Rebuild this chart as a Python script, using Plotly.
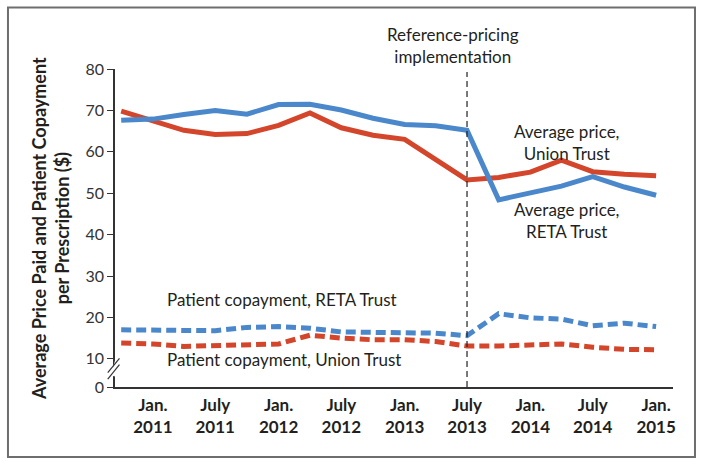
import plotly.graph_objects as go

# quarterly observations, Oct 2010 - Jan 2015
quarters = [
    "2010-10-01", "2011-01-01", "2011-04-01", "2011-07-01", "2011-10-01",
    "2012-01-01", "2012-04-01", "2012-07-01", "2012-10-01", "2013-01-01",
    "2013-04-01", "2013-07-01", "2013-10-01", "2014-01-01", "2014-04-01",
    "2014-07-01", "2014-10-01", "2015-01-01",
]

price_reta = [67.6, 67.9, 69.0, 70.0, 69.1, 71.4, 71.5, 70.1, 68.1, 66.6,
              66.3, 65.2, 48.4, 50.0, 51.7, 54.0, 51.5, 49.5]
price_union = [69.8, 67.5, 65.2, 64.2, 64.4, 66.4, 69.4, 65.8, 64.0, 63.0,
               58.0, 53.2, 53.8, 55.1, 58.0, 55.2, 54.6, 54.2]
copay_reta = [17.0, 17.0, 16.8, 16.8, 17.6, 17.8, 17.4, 16.5, 16.4, 16.4,
              16.2, 15.6, 20.9, 19.9, 19.6, 18.0, 18.6, 17.8]
copay_union = [13.8, 13.6, 13.0, 13.1, 13.3, 13.6, 15.7, 15.0, 14.6, 14.6,
               14.2, 13.1, 13.1, 13.3, 13.6, 12.8, 12.3, 12.2]

x_tickvals = ["2011-01-01", "2011-07-01", "2012-01-01", "2012-07-01", "2013-01-01",
              "2013-07-01", "2014-01-01", "2014-07-01", "2015-01-01"]
x_ticktext = ["Jan.<br>2011", "July<br>2011", "Jan.<br>2012", "July<br>2012", "Jan.<br>2013",
              "July<br>2013", "Jan.<br>2014", "July<br>2014", "Jan.<br>2015"]

# axis is broken between 0 and 10, so "0" sits at the bottom of the range
y_bottom = 3.2
y_tickvals = [y_bottom, 10, 20, 30, 40, 50, 60, 70, 80]
y_ticktext = ["0", "10", "20", "30", "40", "50", "60", "70", "80"]

BLUE = "#4b88cb"
RED = "#d4462b"
FONT = "Lato"

fig = go.Figure()
fig.add_trace(go.Scatter(x=quarters, y=copay_union, mode="lines",
                         line=dict(color=RED, width=5, dash="10px,5px")))
fig.add_trace(go.Scatter(x=quarters, y=copay_reta, mode="lines",
                         line=dict(color=BLUE, width=5, dash="10px,5px")))
fig.add_trace(go.Scatter(x=quarters, y=price_union, mode="lines",
                         line=dict(color=RED, width=5)))
fig.add_trace(go.Scatter(x=quarters, y=price_reta, mode="lines",
                         line=dict(color=BLUE, width=5)))

# reference-pricing implementation marker
fig.add_shape(type="line", x0="2013-07-01", x1="2013-07-01", y0=y_bottom, y1=79.3,
              xref="x", yref="y", line=dict(color="#222", width=1.2, dash="6px,4px"))

# axis break marks
fig.add_shape(type="line", xref="paper", yref="paper", x0=-0.004, x1=0.004,
              y0=0.035, y1=0.085, line=dict(color="white", width=4), layer="above")
for dy in [0.0, 0.02]:
    fig.add_shape(type="line", xref="paper", yref="paper",
                  x0=-0.013, x1=0.008, y0=0.025 + dy, y1=0.07 + dy,
                  line=dict(color="#333", width=1.2), layer="above")

# frame round the figure
fig.add_shape(type="rect", xref="paper", yref="paper",
              x0=-0.1918, x1=1.0394, y0=-0.2201, y1=1.1934,
              line=dict(color="#6e6e6e", width=2), layer="below")

txt = dict(family=FONT, size=17, color="#231f20")
fig.add_annotation(text="Reference-pricing<br>implementation", xref="paper", yref="paper",
                   x=0.606, y=1.075, yanchor="middle", showarrow=False, font=txt, align="center")
fig.add_annotation(text="Average price,<br>Union Trust", xref="paper", yref="paper",
                   x=0.906, y=0.77, yanchor="middle", showarrow=False, font=txt, align="center")
fig.add_annotation(text="Average price,<br>RETA Trust", xref="paper", yref="paper",
                   x=0.906, y=0.525, yanchor="middle", showarrow=False, font=txt, align="center")
fig.add_annotation(text="Patient copayment, RETA Trust", xref="paper", yref="paper",
                   x=0.0896, y=0.274, xanchor="left", yanchor="middle", showarrow=False, font=txt)
fig.add_annotation(text="Patient copayment, Union Trust", xref="paper", yref="paper",
                   x=0.0896, y=0.085, xanchor="left", yanchor="middle", showarrow=False, font=txt)
fig.add_annotation(text="<b>Average Price Paid and Patient Copayment<br>per Prescription ($)</b>",
                   xref="paper", yref="paper", x=-0.1165, y=0.5, textangle=-90,
                   xanchor="center", yanchor="middle",
                   showarrow=False, font=dict(family=FONT, size=18, color="#231f20"),
                   align="center")

fig.update_layout(
    width=704, height=466,
    margin=dict(l=115, r=31, t=69, b=79),
    paper_bgcolor="white", plot_bgcolor="white",
    showlegend=False,
    font=dict(family=FONT, color="#231f20"),
)
fig.update_xaxes(
    range=["2010-09-13", "2015-02-19"],
    tickvals=x_tickvals, ticktext=x_ticktext,
    tickfont=dict(family=FONT, size=17, color="#231f20", weight="bold"),
    showgrid=False, zeroline=False, showline=True, linecolor="#333", linewidth=1.5,
    ticks="", ticklabelstandoff=2,
)
fig.update_yaxes(
    range=[y_bottom, 80],
    tickvals=y_tickvals, ticktext=y_ticktext,
    tickfont=dict(family=FONT, size=16, color="#333"),
    showgrid=False, zeroline=False, showline=True, linecolor="#333", linewidth=1.5,
    ticks="outside", ticklen=6, tickcolor="#333", tickwidth=1.2,
)

# drop the default body margin so the figure sits at the page corner
fig.write_html("out.html", config={"displayModeBar": False},
               post_script="document.body.style.margin = '0';")
